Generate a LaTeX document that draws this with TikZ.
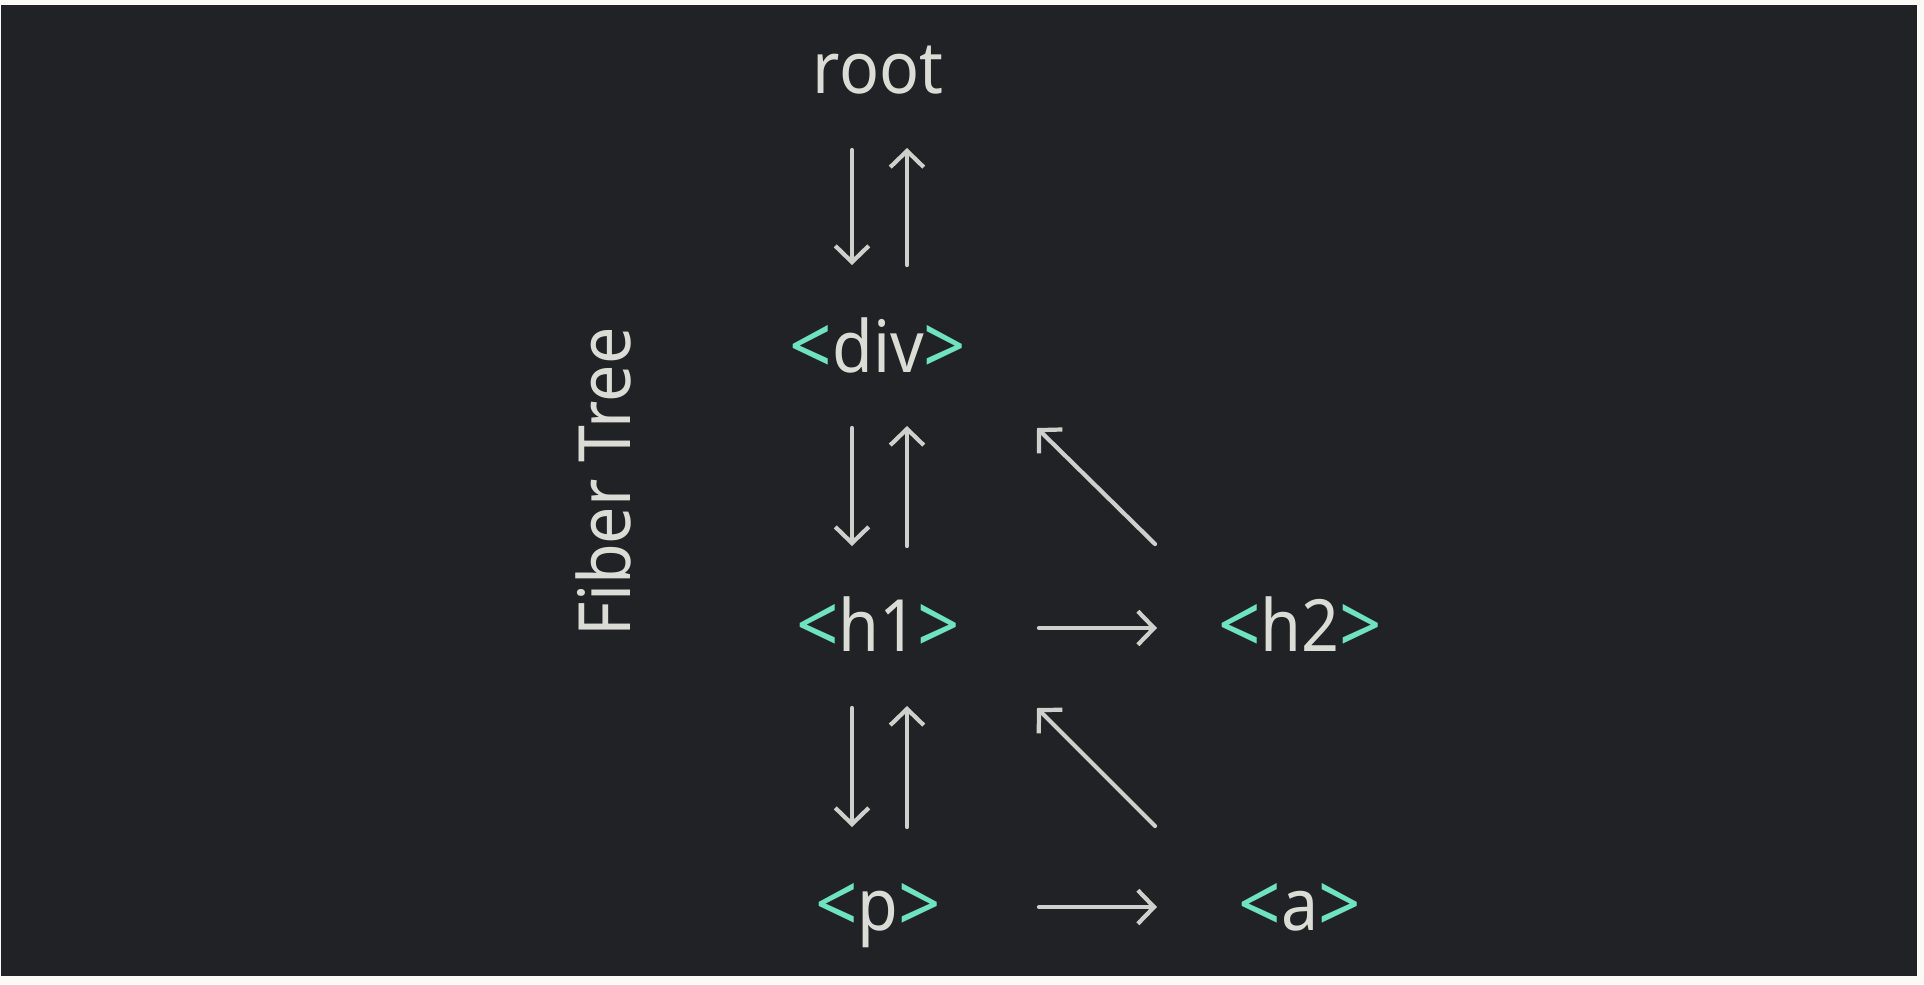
\documentclass[tikz,border=0pt]{standalone}
\usepackage{fontspec}
\setmainfont[FakeStretch=0.92]{Noto Sans}
\usetikzlibrary{arrows.meta,calc}
\definecolor{bg}{HTML}{212226}
\definecolor{paper}{HTML}{FBFAF6}
\definecolor{fg}{HTML}{DCDCD7}
\definecolor{tag}{HTML}{6FE3BF}
\definecolor{ln}{HTML}{CFCFCB}
\newcommand\tgl{\raisebox{-0.04em}{\textcolor{tag}{\scalebox{1.12}{<}}}}
\newcommand\tgr{\raisebox{-0.04em}{\textcolor{tag}{\scalebox{1.12}{>}}}}
\newcommand\tg[1]{\tgl#1\tgr}
\begin{document}
\begin{tikzpicture}[x=0.01cm,y=-0.01cm,
  lbl/.style={text=fg, font=\fontsize{20.5}{24}\selectfont, inner sep=0pt, anchor=base},
  arr/.style={draw=ln, line width=1.2pt, line cap=round,
    -{Straight Barb[length=4.6pt,width=9.5pt,line width=1.2pt]}}]
\useasboundingbox (0,0) rectangle (1924,984);
\fill[paper] (0,0) rectangle (1924,984);
\fill[bg] (1,5) rectangle (1917,976);
% nodes
\node[lbl] (root) at (878,93) {root};
\node[lbl] (div) at (878,372) {\tg{div}};
\node[lbl] (h1) at (878,651) {\tg{h1}};
\node[lbl] (h2) at (1300,651) {\tg{h2}};
\node[lbl] (p) at (878,930) {\tg{p}};
\node[lbl] (a) at (1300,930) {\tg{a}};
\node[lbl, rotate=90] (title) at (630,482) {Fiber Tree};
% vertical pairs
\draw[arr] ($(root.base)+(-26,57)$) -- ($(div.base)+(-26,-107)$);
\draw[arr] ($(div.base)+(29,-107)$) -- ($(root.base)+(29,55)$);
\draw[arr] ($(div.base)+(-26,56)$) -- ($(h1.base)+(-26,-105)$);
\draw[arr] ($(h1.base)+(29,-105)$) -- ($(div.base)+(29,54)$);
\draw[arr] ($(h1.base)+(-26,57)$) -- ($(p.base)+(-26,-103)$);
\draw[arr] ($(p.base)+(29,-103)$) -- ($(h1.base)+(29,55)$);
% siblings
\draw[arr] ($(h1.base)+(161,-23)$) -- ($(h2.base)+(-143,-23)$);
\draw[arr] ($(p.base)+(161,-23)$) -- ($(a.base)+(-143,-23)$);
% returns to parent
\draw[arr] ($(h2.base)+(-145,-107)$) -- ($(div.base)+(159,56)$);
\draw[arr] ($(a.base)+(-145,-104)$) -- ($(h1.base)+(159,57)$);
\end{tikzpicture}
\end{document}
